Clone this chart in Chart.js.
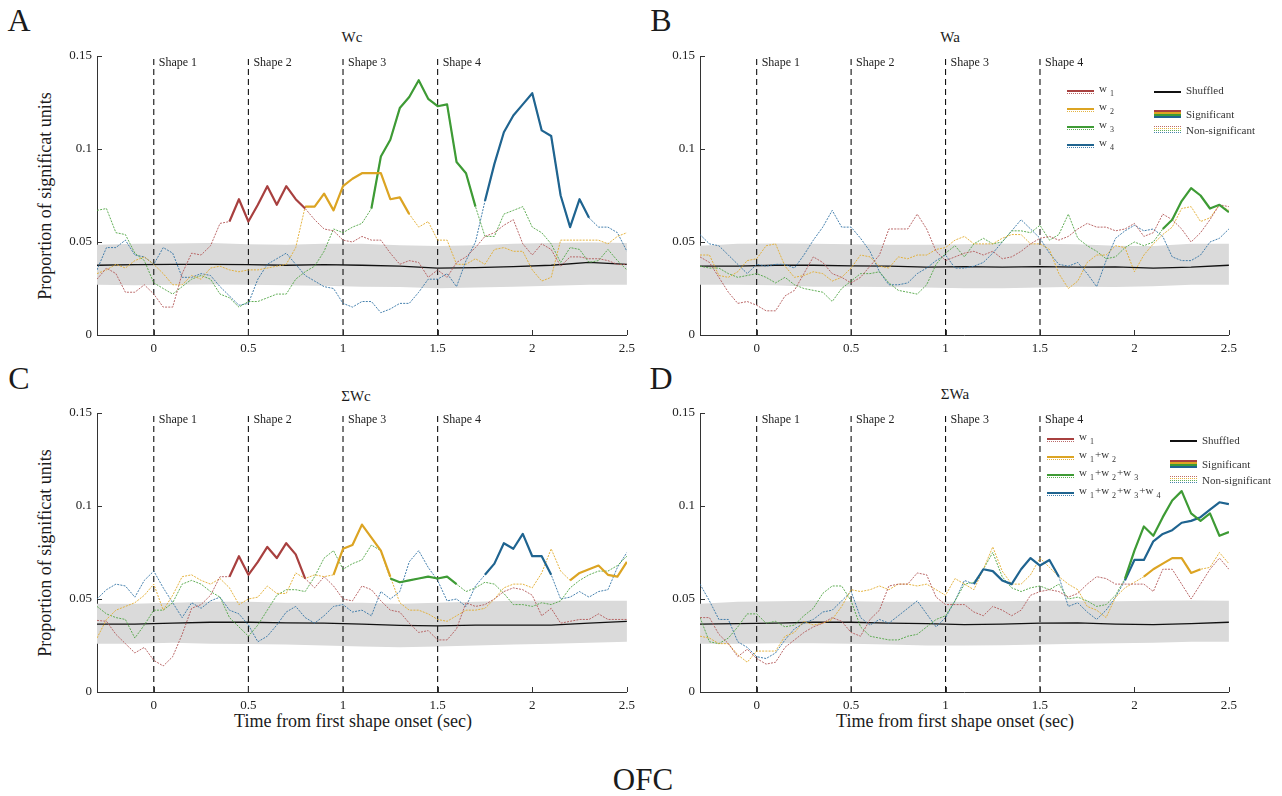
<!DOCTYPE html>
<html>
<head>
<meta charset="utf-8">
<title>OFC</title>
<script src="https://cdn.jsdelivr.net/npm/chart.js@4.4.1/dist/chart.umd.min.js"></script>
<style>
  html, body { margin:0; padding:0; background:#fff; }
  body { position:relative; width:1282px; height:796px; overflow:hidden;
         font-family:'Liberation Serif','Times New Roman',serif; color:#1b1b1b; }
  canvas { position:absolute; }
  .t { position:absolute; white-space:nowrap; line-height:1; transform:translate(-50%,-50%); }
  .l { position:absolute; white-space:nowrap; line-height:1; transform:translateY(-50%); font-size:11px; color:#333; }
  .l sub { font-size:8px; vertical-align:-4px; margin-left:3px; margin-right:1px; }
  .sw { position:absolute; width:27px; }
</style>
</head>
<body>
<div class="t" style="left:19px;top:20px;font-size:32px">A</div>
<div class="t" style="left:661px;top:20px;font-size:32px">B</div>
<div class="t" style="left:19px;top:378px;font-size:32px">C</div>
<div class="t" style="left:661px;top:378px;font-size:32px">D</div>

<div class="t" style="left:352px;top:37px;font-size:15px">Wc</div>
<div class="t" style="left:950px;top:37px;font-size:15px">Wa</div>
<div class="t" style="left:356px;top:396px;font-size:15px">ΣWc</div>
<div class="t" style="left:955px;top:394px;font-size:15px">ΣWa</div>

<div class="t" style="left:45px;top:196px;font-size:18px;transform:translate(-50%,-50%) rotate(-90deg)">Proportion of significat units</div>
<div class="t" style="left:45px;top:553px;font-size:18px;transform:translate(-50%,-50%) rotate(-90deg)">Proportion of significat units</div>
<div class="t" style="left:353px;top:721px;font-size:18px">Time from first shape onset (sec)</div>
<div class="t" style="left:955px;top:721px;font-size:18px">Time from first shape onset (sec)</div>
<div class="t" style="left:643px;top:779px;font-size:31px">OFC</div>

<script>
'use strict';
const FONT = "'Liberation Serif','Times New Roman',serif";
Chart.defaults.font.family = FONT;

// time axis of the traces (sec)
const tGrid = [-0.3,-0.25,-0.2,-0.15,-0.1,-0.05,0,0.05,0.1,0.15,
               0.2,0.25,0.3,0.35,0.4,0.45,0.5,0.55,0.6,0.65,
               0.7,0.75,0.8,0.85,0.9,0.95,1,1.05,1.1,1.15,
               1.2,1.25,1.3,1.35,1.4,1.45,1.5,1.55,1.6,1.65,
               1.7,1.75,1.8,1.85,1.9,1.95,2,2.05,2.1,2.15,
               2.2,2.25,2.3,2.35,2.4,2.45,2.5];
const tBand = [-0.3,-0.1,0.1,0.3,0.5,0.7,0.9,1.1,1.3,1.5,1.7,1.9,2.1,2.3,2.5];

const xTicks = [0,0.5,1,1.5,2,2.5];
const xTickLabels = ['0','0.5','1','1.5','2','2.5'];
const yTicks = [0,0.05,0.1,0.15];
const yTickLabels = ['0','0.05','0.1','0.15'];
const shapeTimes = [0,0.5,1,1.5];
const shapeNames = ['Shape 1','Shape 2','Shape 3','Shape 4'];

// A: Wc
const wc1 = [0.030,0.036,0.033,0.023,0.023,0.027,0.022,0.015,0.015,0.033,
             0.044,0.043,0.048,0.060,0.061,0.073,0.061,0.070,0.080,0.070,
             0.080,0.073,0.068,0.062,0.057,0.056,0.051,0.050,0.053,0.051,
             0.051,0.044,0.038,0.040,0.039,0.031,0.035,0.031,0.039,0.042,
             0.047,0.053,0.055,0.059,0.062,0.049,0.043,0.049,0.046,0.037,
             0.042,0.042,0.041,0.041,0.040,0.038,0.038];
const wc2 = [0.033,0.035,0.038,0.036,0.040,0.042,0.038,0.033,0.027,0.027,
             0.032,0.030,0.036,0.037,0.035,0.034,0.035,0.035,0.036,0.037,
             0.038,0.047,0.069,0.069,0.076,0.067,0.080,0.084,0.087,0.087,
             0.087,0.073,0.074,0.065,0.058,0.061,0.051,0.051,0.038,0.038,
             0.041,0.038,0.046,0.047,0.045,0.045,0.035,0.029,0.031,0.051,
             0.051,0.051,0.051,0.051,0.049,0.053,0.055];
const wc3 = [0.067,0.068,0.055,0.054,0.044,0.040,0.028,0.025,0.022,0.026,
             0.030,0.032,0.030,0.022,0.020,0.015,0.018,0.018,0.020,0.022,
             0.022,0.030,0.034,0.037,0.045,0.057,0.055,0.058,0.060,0.068,
             0.096,0.105,0.122,0.128,0.137,0.127,0.123,0.124,0.093,0.087,
             0.069,0.053,0.053,0.065,0.067,0.069,0.058,0.055,0.049,0.039,
             0.047,0.046,0.039,0.040,0.046,0.040,0.035];
const wc4 = [0.035,0.047,0.047,0.051,0.043,0.042,0.038,0.047,0.044,0.031,
             0.031,0.033,0.032,0.026,0.021,0.016,0.017,0.030,0.038,0.041,
             0.044,0.038,0.032,0.029,0.026,0.025,0.017,0.015,0.018,0.018,
             0.012,0.014,0.017,0.017,0.023,0.030,0.030,0.033,0.026,0.040,
             0.050,0.072,0.092,0.109,0.118,0.124,0.130,0.110,0.107,0.075,
             0.058,0.073,0.063,0.058,0.058,0.055,0.045];
const sigWc = [[[0.4,0.8]], [[0.8,1.35]], [[1.15,1.7]], [[1.75,2.3]]];
const wcShufMean = [0.0375,0.0378,0.038,0.038,0.0378,0.0375,0.0378,0.0375,0.037,0.036,0.0362,0.0368,0.0375,0.039,0.038];
const wcShufHi   = [0.0485,0.049,0.0492,0.0495,0.0488,0.0485,0.049,0.049,0.0482,0.0478,0.0482,0.049,0.0495,0.0497,0.0495];
const wcShufLo   = [0.027,0.0268,0.027,0.0272,0.027,0.0268,0.0265,0.026,0.0258,0.0252,0.0255,0.026,0.0265,0.027,0.027];

// B: Wa
const wa1 = [0.042,0.039,0.031,0.023,0.017,0.018,0.016,0.013,0.013,0.021,
             0.024,0.033,0.042,0.039,0.033,0.031,0.028,0.031,0.037,0.043,
             0.057,0.057,0.057,0.065,0.057,0.045,0.040,0.042,0.044,0.045,
             0.043,0.045,0.041,0.042,0.045,0.049,0.052,0.053,0.051,0.053,
             0.057,0.060,0.058,0.058,0.056,0.057,0.060,0.053,0.055,0.065,
             0.062,0.057,0.050,0.055,0.062,0.070,0.069];
const wa2 = [0.043,0.043,0.032,0.031,0.034,0.040,0.041,0.048,0.049,0.037,
             0.031,0.032,0.034,0.033,0.029,0.031,0.036,0.043,0.042,0.037,
             0.036,0.042,0.041,0.043,0.043,0.046,0.047,0.051,0.053,0.049,
             0.049,0.049,0.052,0.054,0.054,0.049,0.049,0.046,0.033,0.025,
             0.029,0.039,0.043,0.043,0.048,0.047,0.034,0.043,0.049,0.054,
             0.058,0.068,0.069,0.061,0.063,0.070,0.067];
const wa3 = [0.037,0.036,0.036,0.033,0.031,0.032,0.033,0.031,0.028,0.031,
             0.027,0.025,0.024,0.023,0.018,0.025,0.029,0.033,0.033,0.034,
             0.028,0.024,0.023,0.022,0.027,0.038,0.044,0.048,0.042,0.049,
             0.052,0.049,0.050,0.056,0.056,0.055,0.059,0.051,0.054,0.065,
             0.052,0.048,0.045,0.041,0.042,0.047,0.050,0.048,0.050,0.057,
             0.062,0.072,0.079,0.075,0.068,0.070,0.066];
const wa4 = [0.054,0.049,0.048,0.043,0.038,0.033,0.038,0.037,0.038,0.038,
             0.036,0.043,0.051,0.058,0.067,0.058,0.058,0.052,0.045,0.034,
             0.027,0.027,0.028,0.033,0.036,0.040,0.043,0.036,0.036,0.037,
             0.039,0.044,0.050,0.056,0.062,0.057,0.052,0.044,0.038,0.037,
             0.039,0.033,0.026,0.040,0.052,0.056,0.059,0.056,0.057,0.053,
             0.042,0.040,0.040,0.043,0.050,0.052,0.057];
const sigWa = [[], [], [[2.15,2.5]], []];
const waShufMean = [0.037,0.037,0.0375,0.0375,0.0372,0.037,0.0365,0.0368,0.0365,0.0368,0.0365,0.0366,0.036,0.0365,0.0375];
const waShufHi   = [0.048,0.049,0.0492,0.049,0.0488,0.0485,0.0485,0.0488,0.049,0.049,0.0488,0.048,0.0478,0.049,0.049];
const waShufLo   = [0.027,0.027,0.0268,0.026,0.026,0.0258,0.0255,0.0252,0.0252,0.0255,0.026,0.0258,0.0262,0.027,0.027];

// C: sum Wc
const swc1 = [0.0385,0.038,0.031,0.026,0.021,0.024,0.017,0.014,0.019,0.031,
              0.045,0.047,0.052,0.062,0.062,0.073,0.063,0.070,0.078,0.072,
              0.080,0.074,0.061,0.056,0.062,0.057,0.050,0.049,0.057,0.055,
              0.049,0.044,0.043,0.037,0.032,0.033,0.028,0.028,0.034,0.048,
              0.046,0.047,0.050,0.054,0.056,0.055,0.052,0.041,0.045,0.037,
              0.038,0.039,0.039,0.042,0.039,0.039,0.039];
const swc2 = [0.029,0.039,0.044,0.046,0.048,0.052,0.058,0.044,0.052,0.062,
              0.063,0.060,0.058,0.061,0.056,0.047,0.050,0.051,0.057,0.053,
              0.053,0.064,0.061,0.063,0.062,0.063,0.077,0.079,0.090,0.083,
              0.076,0.062,0.048,0.044,0.044,0.042,0.039,0.038,0.041,0.044,
              0.044,0.045,0.050,0.056,0.058,0.058,0.056,0.064,0.077,0.065,
              0.060,0.064,0.066,0.068,0.063,0.062,0.070];
const swc3 = [0.046,0.042,0.040,0.039,0.029,0.036,0.044,0.044,0.048,0.058,
              0.060,0.058,0.054,0.051,0.040,0.035,0.030,0.036,0.044,0.052,
              0.055,0.055,0.054,0.062,0.072,0.076,0.066,0.069,0.071,0.079,
              0.076,0.061,0.059,0.060,0.061,0.062,0.061,0.062,0.058,0.054,
              0.056,0.059,0.058,0.053,0.047,0.047,0.046,0.048,0.047,0.049,
              0.056,0.060,0.063,0.065,0.065,0.068,0.073];
const swc4 = [0.050,0.055,0.058,0.057,0.051,0.060,0.065,0.056,0.048,0.040,
              0.048,0.045,0.049,0.051,0.044,0.042,0.036,0.027,0.030,0.036,
              0.043,0.046,0.040,0.037,0.041,0.046,0.047,0.043,0.044,0.041,
              0.054,0.050,0.054,0.070,0.076,0.067,0.060,0.049,0.050,0.046,
              0.057,0.063,0.069,0.080,0.077,0.085,0.073,0.073,0.063,0.050,
              0.051,0.054,0.051,0.054,0.055,0.067,0.075];
const sigSWc = [[[0.4,0.8]], [[0.95,1.25],[2.2,2.5]], [[1.25,1.6]], [[1.75,2.1]]];
const swcShufMean = [0.0365,0.0365,0.037,0.0375,0.0375,0.0372,0.037,0.0365,0.0358,0.0355,0.036,0.036,0.036,0.037,0.038];
const swcShufHi   = [0.0475,0.0475,0.048,0.0485,0.0485,0.048,0.048,0.048,0.0475,0.048,0.0485,0.049,0.049,0.049,0.049];
const swcShufLo   = [0.026,0.026,0.0265,0.026,0.0258,0.0255,0.025,0.0245,0.024,0.0245,0.025,0.0255,0.026,0.0265,0.027];

// D: sum Wa
const swa1 = [0.040,0.040,0.031,0.026,0.019,0.023,0.018,0.015,0.016,0.024,
              0.028,0.032,0.035,0.037,0.040,0.038,0.032,0.030,0.039,0.044,
              0.057,0.058,0.058,0.064,0.063,0.051,0.047,0.047,0.047,0.043,
              0.041,0.046,0.044,0.041,0.044,0.052,0.054,0.055,0.054,0.051,
              0.053,0.058,0.062,0.061,0.058,0.058,0.058,0.058,0.054,0.066,
              0.066,0.058,0.050,0.058,0.066,0.072,0.066];
const swa2 = [0.030,0.029,0.026,0.026,0.020,0.016,0.022,0.022,0.022,0.030,
              0.032,0.038,0.036,0.037,0.039,0.046,0.055,0.054,0.055,0.057,
              0.055,0.058,0.058,0.057,0.058,0.055,0.052,0.061,0.058,0.055,
              0.066,0.078,0.065,0.058,0.058,0.063,0.072,0.067,0.062,0.058,
              0.055,0.046,0.044,0.040,0.051,0.056,0.059,0.062,0.066,0.069,
              0.072,0.072,0.064,0.066,0.067,0.075,0.069];
const swa3 = [0.040,0.027,0.026,0.029,0.035,0.042,0.042,0.037,0.038,0.035,
              0.036,0.041,0.045,0.053,0.057,0.057,0.049,0.035,0.030,0.029,
              0.028,0.028,0.030,0.031,0.035,0.039,0.041,0.049,0.058,0.059,
              0.066,0.075,0.062,0.056,0.054,0.056,0.057,0.055,0.058,0.050,
              0.051,0.049,0.046,0.047,0.052,0.061,0.076,0.089,0.084,0.094,
              0.103,0.108,0.096,0.092,0.096,0.084,0.086];
const swa4 = [0.058,0.049,0.039,0.039,0.027,0.024,0.019,0.018,0.021,0.028,
              0.034,0.037,0.039,0.043,0.044,0.049,0.054,0.040,0.036,0.039,
              0.037,0.041,0.045,0.049,0.042,0.035,0.040,0.049,0.060,0.058,
              0.066,0.065,0.060,0.058,0.066,0.072,0.068,0.071,0.062,0.046,
              0.048,0.043,0.039,0.044,0.051,0.060,0.071,0.071,0.081,0.085,
              0.087,0.091,0.092,0.094,0.098,0.102,0.101];
const sigSWa = [[], [[2.05,2.35]], [[1.95,2.5]], [[1.15,1.6],[1.95,2.5]]];
const swaShufMean = [0.0365,0.0368,0.037,0.0375,0.0375,0.037,0.0368,0.0362,0.0365,0.037,0.0372,0.0365,0.0362,0.0368,0.0375];
const swaShufHi   = [0.0475,0.0485,0.0488,0.049,0.0488,0.0485,0.0485,0.0485,0.0488,0.049,0.049,0.0488,0.049,0.0492,0.049];
const swaShufLo   = [0.026,0.026,0.0262,0.0262,0.026,0.0255,0.025,0.025,0.0252,0.0255,0.026,0.0262,0.0265,0.027,0.027];

const SOLID = ['#a8403f','#dca423','#3e9b35','#1f6490'];
const DOT   = ['rgba(180,90,90,0.9)','rgba(226,172,45,0.9)','rgba(80,165,68,0.9)','rgba(50,115,165,0.9)'];

const panels = [
  { L:97,  T:56,  R:627,  B:335, vals:[wc1,wc2,wc3,wc4],     sig:sigWc,  shuf:[wcShufMean,wcShufHi,wcShufLo] },
  { L:700, T:56,  R:1229, B:335, vals:[wa1,wa2,wa3,wa4],     sig:sigWa,  shuf:[waShufMean,waShufHi,waShufLo] },
  { L:97,  T:413, R:627,  B:692, vals:[swc1,swc2,swc3,swc4], sig:sigSWc, shuf:[swcShufMean,swcShufHi,swcShufLo] },
  { L:700, T:413, R:1229, B:692, vals:[swa1,swa2,swa3,swa4], sig:sigSWa, shuf:[swaShufMean,swaShufHi,swaShufLo] },
];

const inSig = (t, ivs) => ivs.some(([a, b]) => t >= a - 1e-9 && t <= b + 1e-9);

// MATLAB style ticks pointing into the plot
const inwardTicks = {
  id: 'inwardTicks',
  afterDraw(c) {
    const { ctx, chartArea: a, scales: { x, y } } = c;
    ctx.save();
    ctx.strokeStyle = '#333'; ctx.lineWidth = 1;
    ctx.beginPath();
    xTicks.forEach(v => { const px = Math.round(x.getPixelForValue(v)) + 0.5; ctx.moveTo(px, a.bottom); ctx.lineTo(px, a.bottom - 5); });
    yTicks.forEach(v => { const py = Math.round(y.getPixelForValue(v)) + 0.5; ctx.moveTo(a.left, py); ctx.lineTo(a.left + 5, py); });
    ctx.stroke();
    ctx.restore();
  }
};

const shapeLabels = {
  id: 'shapeLabels',
  afterDatasetsDraw(c) {
    const { ctx, chartArea: a, scales: { x } } = c;
    ctx.save();
    ctx.font = '12px ' + FONT;
    ctx.fillStyle = '#222';
    ctx.textBaseline = 'middle';
    shapeTimes.forEach((t, i) => ctx.fillText(shapeNames[i], x.getPixelForValue(t) + 5, a.top + 7));
    ctx.restore();
  }
};

function buildPanel(p) {
  const cw = p.R - p.L + 97 + 14, ch = p.B - p.T + 20 + 28;
  const cv = document.createElement('canvas');
  cv.width = cw; cv.height = ch;
  cv.style.left = (p.L - 97) + 'px';
  cv.style.top = (p.T - 20) + 'px';
  document.body.appendChild(cv);

  const ds = [];
  ds.push({ data: tBand.map((t, i) => ({ x: t, y: p.shuf[1][i] })), borderWidth: 0, borderColor: 'rgba(0,0,0,0)', backgroundColor: '#dadada', fill: '+1', order: 10 });
  ds.push({ data: tBand.map((t, i) => ({ x: t, y: p.shuf[2][i] })), borderWidth: 0, borderColor: 'rgba(0,0,0,0)', fill: false, order: 10 });
  ds.push({ data: tBand.map((t, i) => ({ x: t, y: p.shuf[0][i] })), borderColor: '#111', borderWidth: 1.3, order: 3 });
  shapeTimes.forEach(t => ds.push({ data: [{ x: t, y: 0 }, { x: t, y: 0.15 }], borderColor: '#111', borderWidth: 1.1, borderDash: [6, 4], order: 4 }));
  p.vals.forEach((v, k) => {
    ds.push({ data: tGrid.map((t, i) => ({ x: t, y: v[i] })), borderColor: DOT[k], borderWidth: 1, borderDash: [2, 1.2], order: 2 });
    ds.push({ data: tGrid.map((t, i) => ({ x: t, y: inSig(t, p.sig[k]) ? v[i] : null })), borderColor: SOLID[k], borderWidth: 2.2, borderJoinStyle: 'round', spanGaps: false, order: 1 });
  });

  const tickFont = { family: FONT, size: 13 };
  new Chart(cv, {
    type: 'line',
    data: { datasets: ds },
    options: {
      responsive: false, animation: false, events: [],
      layout: { padding: { left: 0, top: 20, right: 14, bottom: 0 } },
      elements: { point: { radius: 0 }, line: { tension: 0 } },
      plugins: { legend: { display: false }, tooltip: { enabled: false } },
      scales: {
        x: {
          type: 'linear', min: -0.3, max: 2.5,
          afterBuildTicks: s => { s.ticks = xTicks.map(v => ({ value: v })); },
          afterFit: s => { s.height = 28; },
          grid: { display: false, drawTicks: false },
          border: { display: true, color: '#333', width: 1 },
          ticks: { padding: 6, color: '#222', font: tickFont, maxRotation: 0, autoSkip: false, callback: (v, i) => xTickLabels[i] }
        },
        y: {
          type: 'linear', min: 0, max: 0.15,
          afterBuildTicks: s => { s.ticks = yTicks.map(v => ({ value: v })); },
          afterFit: s => { s.width = 97; },
          grid: { display: false, drawTicks: false },
          border: { display: true, color: '#333', width: 1 },
          ticks: { padding: 5, color: '#222', font: tickFont, autoSkip: false, callback: (v, i) => yTickLabels[i] }
        }
      }
    },
    plugins: [inwardTicks, shapeLabels]
  });
}

panels.forEach(buildPanel);

// legends of panels B and D
function addDiv(cls, style, html) {
  const d = document.createElement('div');
  d.className = cls; d.style.cssText = style; d.innerHTML = html || '';
  document.body.appendChild(d);
}

function drawLegend(g, labels) {
  labels.forEach((lab, i) => {
    const y = g.rowY[i];
    addDiv('sw', `left:${g.swX}px;top:${y - 1}px;height:2px;background:${SOLID[i]}`);
    addDiv('sw', `left:${g.swX}px;top:${y + 2}px;height:0;border-top:1px dotted ${DOT[i]}`);
    addDiv('l', `left:${g.txtX}px;top:${y - 1}px`, lab);
  });
  addDiv('sw', `left:${g.shX}px;top:${g.shY - 1}px;height:2px;background:#111`);
  addDiv('l', `left:${g.shX + 32}px;top:${g.shY - 1.5}px`, 'Shuffled');
  SOLID.forEach((c, i) => addDiv('sw', `left:${g.shX}px;top:${g.sigY - 4 + i * 2}px;height:2px;background:${c}`));
  addDiv('l', `left:${g.shX + 32}px;top:${g.sigY}px`, 'Significant');
  DOT.forEach((c, i) => addDiv('sw', `left:${g.shX}px;top:${g.nsY - 4 + i * 2}px;height:0;border-top:1px dotted ${c}`));
  addDiv('l', `left:${g.shX + 32}px;top:${g.nsY}px`, 'Non-significant');
}

drawLegend({ swX: 1067, txtX: 1099, rowY: [91, 109, 127, 145], shX: 1154, shY: 91.5, sigY: 114, nsY: 130 },
  ['w<sub>1</sub>', 'w<sub>2</sub>', 'w<sub>3</sub>', 'w<sub>4</sub>']);
drawLegend({ swX: 1047, txtX: 1079, rowY: [439, 457, 475, 493], shX: 1170, shY: 441, sigY: 464, nsY: 480 },
  ['w<sub>1</sub>', 'w<sub>1</sub>+w<sub>2</sub>', 'w<sub>1</sub>+w<sub>2</sub>+w<sub>3</sub>', 'w<sub>1</sub>+w<sub>2</sub>+w<sub>3</sub>+w<sub>4</sub>']);
</script>
</body>
</html>
